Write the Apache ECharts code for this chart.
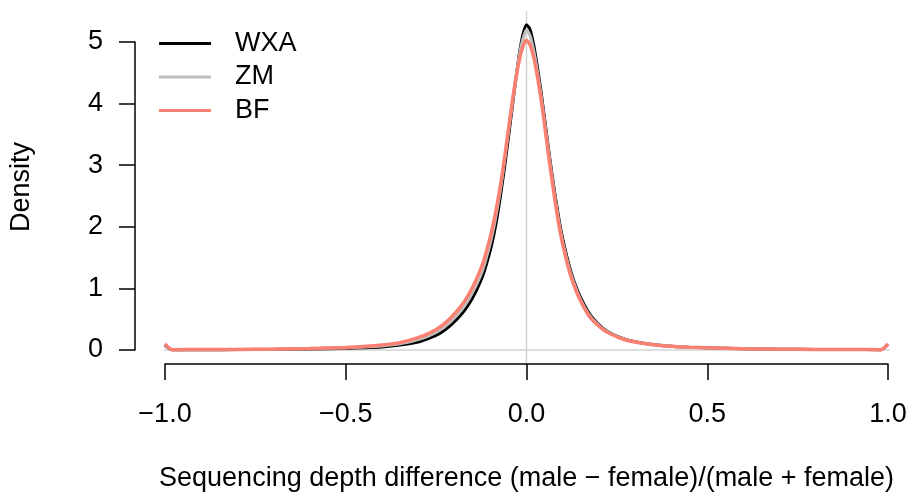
<!DOCTYPE html>
<html><head><meta charset="utf-8">
<script src="https://cdn.jsdelivr.net/npm/echarts@6/dist/echarts.min.js"></script>
<style>html,body{margin:0;padding:0;background:#fff}#c{width:911px;height:497px}</style>
</head><body><div id="c"></div>
<script>
const xs = [-1,-0.98,-0.9,-0.8,-0.7,-0.6,-0.5,-0.45,-0.4,-0.35,-0.3,-0.27,-0.24,-0.21,-0.18,-0.16,-0.14,-0.12,-0.1,-0.09,-0.08,-0.07,-0.06,-0.05,-0.04,-0.03,-0.02,-0.01,
  0,
  0.01,0.02,0.03,0.04,0.05,0.06,0.07,0.08,0.09,0.1,0.12,0.14,0.16,0.18,0.21,0.24,0.27,0.3,0.35,0.4,0.45,0.5,0.6,0.7,0.8,0.9,0.98,1];
const wxa = [0.08,0.004,0.005,0.007,0.01,0.016,0.026,0.036,0.05,0.08,0.13,0.19,0.27,0.40,0.58,0.74,0.95,1.22,1.62,1.88,2.20,2.58,3.00,3.45,3.92,4.38,4.80,5.12,
  5.28,
  5.20,4.95,4.60,4.20,3.76,3.30,2.88,2.48,2.12,1.81,1.33,0.98,0.73,0.54,0.36,0.25,0.18,0.135,0.09,0.062,0.046,0.036,0.022,0.014,0.01,0.008,0.006,0.09];
const zm = [0.09,0.005,0.007,0.009,0.013,0.021,0.034,0.047,0.066,0.10,0.17,0.23,0.32,0.46,0.65,0.82,1.04,1.32,1.74,2.00,2.32,2.68,3.10,3.54,3.98,4.40,4.78,5.05,
  5.20,
  5.10,4.86,4.53,4.14,3.70,3.25,2.83,2.43,2.07,1.76,1.29,0.95,0.70,0.52,0.35,0.245,0.175,0.132,0.088,0.061,0.045,0.035,0.022,0.014,0.01,0.008,0.006,0.09];
const bf = [0.10,0.006,0.008,0.01,0.015,0.025,0.04,0.055,0.08,0.12,0.20,0.27,0.37,0.52,0.72,0.90,1.13,1.42,1.84,2.10,2.40,2.75,3.15,3.58,4.00,4.38,4.70,4.93,
  5.03,
  4.95,4.75,4.45,4.08,3.66,3.20,2.78,2.38,2.02,1.72,1.25,0.92,0.68,0.50,0.34,0.24,0.17,0.13,0.085,0.06,0.045,0.035,0.022,0.014,0.01,0.008,0.006,0.10];
const seriesNames = ['WXA','ZM','BF'];
const xTickValues = [-1,-0.5,0,0.5,1];
const xTickLabels = ['\u22121.0','\u22120.5','0.0','0.5','1.0'];
const yTickLabels = ['0','1','2','3','4','5'];
const hLine = [[-1.08,0],[1.2,0]];
const vLine = [[0,-0.21],[0,5.5]];

const font = '"Liberation Sans", Arial, Helvetica, sans-serif';
const pair = ys => xs.map((x,i)=>[x,ys[i]]);
const chart = echarts.init(document.getElementById('c'), null, {renderer:'canvas'});
chart.setOption({
  backgroundColor:'#fff',
  animation:false,
  grid:{left:165,right:23,top:42,bottom:144,containLabel:false},
  legend:{
    orient:'vertical', left:159, top:30, padding:0, itemWidth:52, itemHeight:3, itemGap:6.5,
    icon:'rect', data:seriesNames,
    textStyle:{fontFamily:font,fontSize:27,color:'#000',lineHeight:26,padding:[0,0,0,19]}
  },
  xAxis:{
    type:'value', min:-1, max:1, interval:0.5, offset:14,
    name:'Sequencing depth difference (male \u2212 female)/(male + female)',
    nameLocation:'middle', nameGap:101,
    nameTextStyle:{fontFamily:font,fontSize:27,color:'#000'},
    axisLine:{show:true,onZero:false,lineStyle:{color:'#000',width:1.5}},
    axisTick:{show:true,length:16,lineStyle:{color:'#000',width:1.5}},
    axisLabel:{fontFamily:font,fontSize:27,color:'#000',margin:37,
      formatter:v=>{const i=xTickValues.findIndex(t=>Math.abs(t-v)<1e-9);return i>=0?xTickLabels[i]:'';}},
    splitLine:{show:false}
  },
  yAxis:{
    type:'value', min:0, max:5, interval:1, offset:30,
    name:'Density', nameLocation:'middle', nameGap:100, nameRotate:90,
    nameTextStyle:{fontFamily:font,fontSize:27,color:'#000',padding:[0,0,0,18]},
    axisLine:{show:true,onZero:false,lineStyle:{color:'#000',width:1.5}},
    axisTick:{show:true,length:16,lineStyle:{color:'#000',width:1.5}},
    axisLabel:{fontFamily:font,fontSize:27,color:'#000',margin:32,
      formatter:v=>yTickLabels[Math.round(v)]},
    splitLine:{show:false}
  },
  series:[
    {type:'line',name:'_h',data:hLine,symbol:'none',clip:false,silent:true,
      lineStyle:{color:'#d3d3d3',width:1.5},z:1},
    {type:'line',name:'_v',data:vLine,symbol:'none',clip:false,silent:true,
      lineStyle:{color:'#d3d3d3',width:1.5},z:1},
    {type:'line',name:'WXA',data:pair(wxa),symbol:'none',clip:false,smooth:0.25,
      color:'#000',lineStyle:{color:'#000',width:3},z:2},
    {type:'line',name:'ZM',data:pair(zm),symbol:'none',clip:false,smooth:0.25,
      color:'#bebebe',lineStyle:{color:'#bebebe',width:3},z:3},
    {type:'line',name:'BF',data:pair(bf),symbol:'none',clip:false,smooth:0.25,
      color:'#fa8072',lineStyle:{color:'#fa8072',width:3.5},z:4}
  ]
});
</script></body></html>
